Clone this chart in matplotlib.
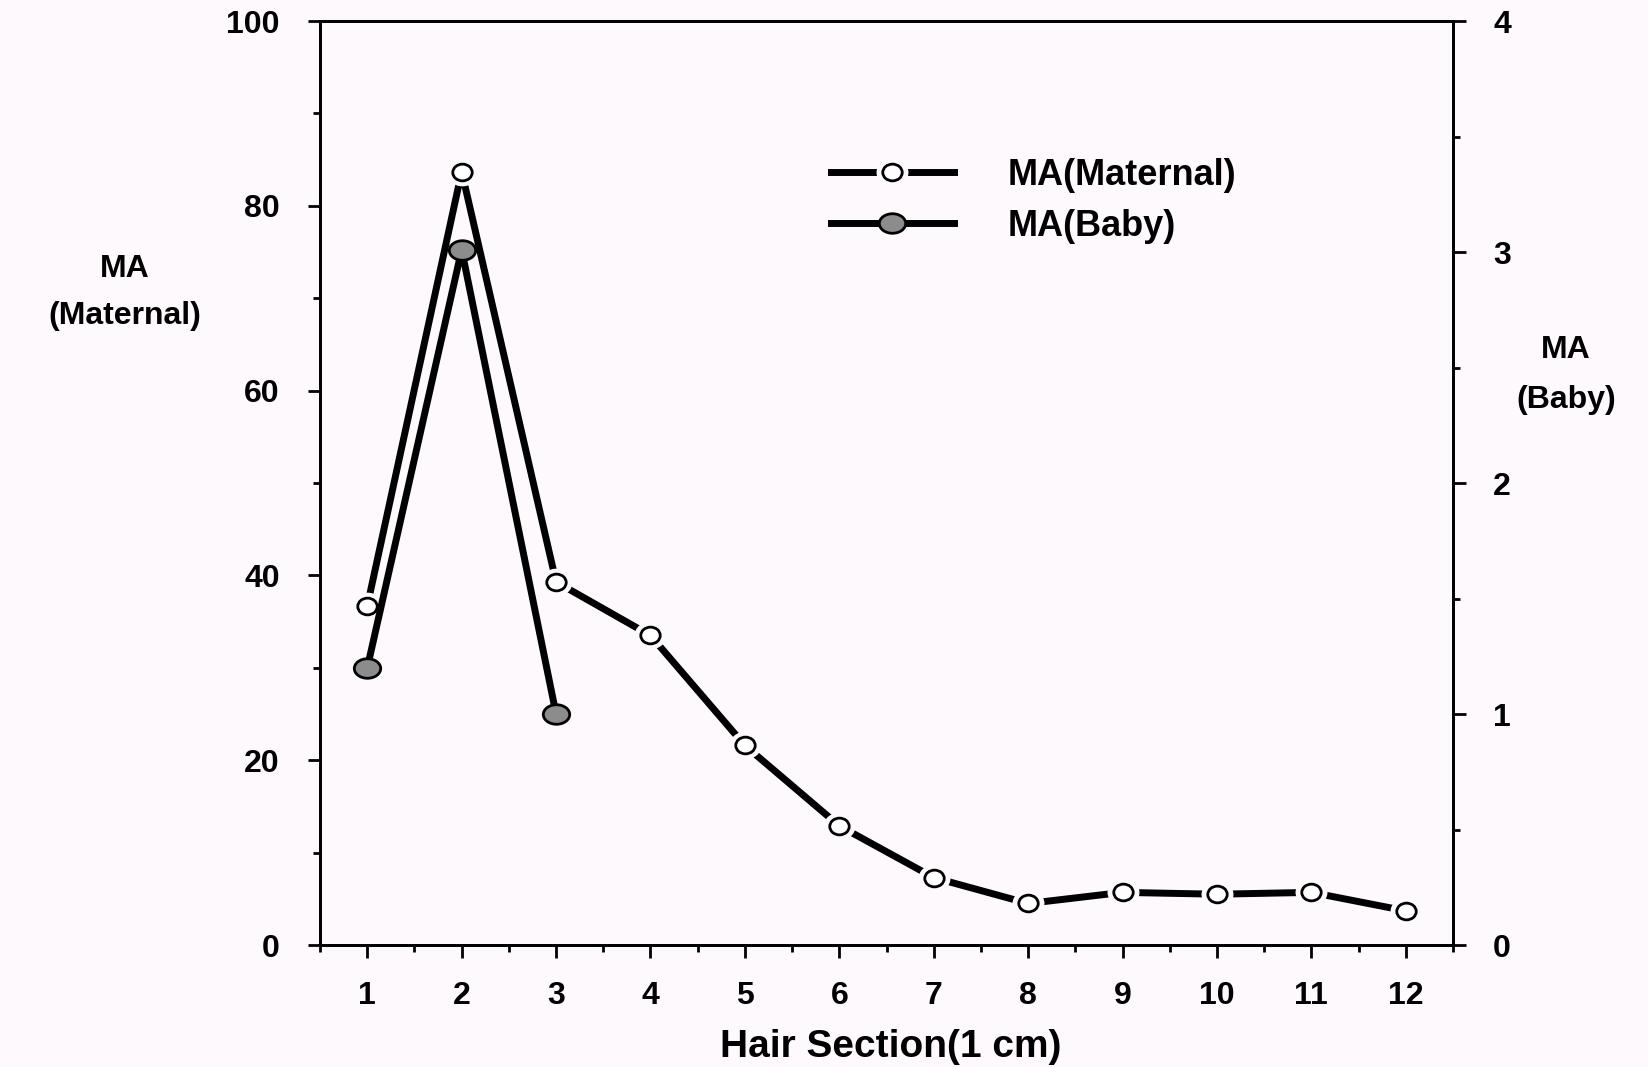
import matplotlib
matplotlib.use('Agg')
import matplotlib.pyplot as plt
import matplotlib.ticker as ticker
from matplotlib.path import Path
from matplotlib.transforms import Affine2D
from matplotlib.legend_handler import HandlerTuple

# data
sections = [1, 2, 3, 4, 5, 6, 7, 8, 9, 10, 11, 12]
maternal = [36.7, 83.7, 39.3, 33.5, 21.6, 12.9, 7.3, 4.5, 5.7, 5.5, 5.7, 3.7]
baby_sections = [1, 2, 3]
baby = [1.2, 3.01, 1.0]

bg = '#fdf9fd'
plt.rcParams['font.family'] = ['Liberation Sans', 'DejaVu Sans']
plt.rcParams['font.weight'] = 'bold'

# slightly flattened circles, like the scanned markers
open_ell = Path.unit_circle().transformed(Affine2D().scale(1.0, 0.86))
fill_ell = Path.unit_circle().transformed(Affine2D().scale(1.0, 0.74))

fig = plt.figure(figsize=(16.49, 10.67), dpi=100, facecolor=bg)
ax = fig.add_axes([0.1941, 0.1143, 0.6870, 0.8660], facecolor=bg)
ax2 = ax.twinx()

# maternal series (left axis)
ax.plot(sections, maternal, color='black', lw=5, solid_capstyle='butt', zorder=2)
ax.plot(sections, maternal, ls='none', marker=open_ell, ms=22,
        mfc=bg, mec=bg, zorder=3)
ax.plot(sections, maternal, ls='none', marker=open_ell, ms=14,
        mfc='white', mec='black', mew=2, zorder=4)

# baby series (right axis)
ax2.plot(baby_sections, baby, color='black', lw=5, solid_capstyle='butt', zorder=2)
ax2.plot(baby_sections, baby, ls='none', marker=fill_ell, ms=19,
         mfc='#8c8c8c', mec='black', mew=2, zorder=4)

ax.set_xlim(0.5, 12.5)
ax.set_ylim(0, 100)
ax2.set_ylim(0, 4)

ax.xaxis.set_major_locator(ticker.MultipleLocator(1))
ax.xaxis.set_minor_locator(ticker.MultipleLocator(0.5))
ax.yaxis.set_major_locator(ticker.MultipleLocator(20))
ax.yaxis.set_minor_locator(ticker.MultipleLocator(10))
ax2.yaxis.set_major_locator(ticker.MultipleLocator(1))
ax2.yaxis.set_minor_locator(ticker.MultipleLocator(0.5))

for spine in list(ax.spines.values()) + list(ax2.spines.values()):
    spine.set_linewidth(2)

ax.tick_params(axis='x', which='major', direction='out', length=9, width=2,
               pad=17, labelsize=23)
ax.tick_params(axis='x', which='minor', direction='out', length=5, width=2)
ax.tick_params(axis='y', which='major', direction='out', length=9, width=2,
               pad=20, labelsize=23, left=True, right=False)
ax.tick_params(axis='y', which='minor', direction='out', length=5, width=2,
               left=True, right=False)
ax2.tick_params(axis='y', which='major', direction='out', length=9, width=2,
                pad=20, labelsize=23)
ax2.tick_params(axis='y', which='minor', direction='out', length=5, width=2)

for lbl in ax.get_xticklabels() + ax.get_yticklabels() + ax2.get_yticklabels():
    lbl.set_fontweight('bold')

ax.set_xlabel('Hair Section(1 cm)', fontsize=28, fontweight='bold', va='center')
ax.xaxis.set_label_coords(0.504, -0.110)
ax.set_ylabel('MA\n(Maternal)', fontsize=23, fontweight='bold', rotation=0,
              ha='center', va='center', multialignment='center', linespacing=1.75)
ax.yaxis.set_label_coords(-0.172, 0.706)
ax2.set_ylabel('MA\n(Baby)', fontsize=23, fontweight='bold', rotation=0,
               ha='center', va='center', multialignment='center', linespacing=1.9)
ax2.yaxis.set_label_coords(1.100, 0.617)

leg_m = (plt.Line2D([], [], color='black', lw=5),
         plt.Line2D([], [], ls='none', marker=open_ell, ms=22, mfc=bg, mec=bg),
         plt.Line2D([], [], ls='none', marker=open_ell, ms=14, mfc='white',
                    mec='black', mew=2))
leg_b = (plt.Line2D([], [], color='black', lw=5),
         plt.Line2D([], [], ls='none', marker=fill_ell, ms=19, mfc='#8c8c8c',
                    mec='black', mew=2))
ax2.legend([leg_m, leg_b], ['MA(Maternal)', 'MA(Baby)'],
           handler_map={tuple: HandlerTuple(ndivide=1, pad=0)},
           loc='upper left', bbox_to_anchor=(0.451, 0.852), frameon=False,
           prop={'size': 26, 'weight': 'bold'}, borderpad=0, borderaxespad=0,
           handlelength=3.4, handletextpad=1.5, labelspacing=0.45)

fig.savefig('out.png', dpi=100, facecolor=bg)
